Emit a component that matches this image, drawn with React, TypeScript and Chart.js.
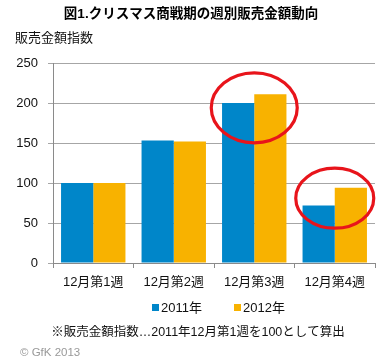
import React, { useEffect, useRef } from "react";
import { Chart, registerables } from "chart.js";

Chart.register(...registerables);

const categories = ["12月第1週", "12月第2週", "12月第3週", "12月第4週"];
const sales2011 = [100, 153, 200, 72];
const sales2012 = [100, 152, 211, 94];
const seriesLabels = ["2011年", "2012年"];
const yMax = 250;
const yStep = 50;
const titleText = "図1.クリスマス商戦期の週別販売金額動向";
const yTitleText = "販売金額指数";
const noteText = "※販売金額指数…2011年12月第1週を100として算出";
const creditText = "© GfK 2013";
// highlighted regions: category index and centre value
const highlightIndex = [2, 3];
const highlightValue = [194, 81];

const FONT = '"Liberation Sans", "Noto Sans CJK JP", sans-serif';
const BLUE = "#0086c9";
const ORANGE = "#f8b200";

const extrasPlugin = {
  id: "extras",
  afterDatasetsDraw(chart: any) {
    const ctx = chart.ctx;
    const xs = chart.scales.x;
    const ys = chart.scales.y;
    ctx.save();
    ctx.strokeStyle = "#e8141b";
    ctx.lineWidth = 3.2;
    const radii = [
      [43, 35],
      [39, 30],
    ];
    highlightIndex.forEach((idx, i) => {
      const cx = xs.getPixelForValue(idx);
      const cy = ys.getPixelForValue(highlightValue[i]);
      ctx.beginPath();
      ctx.ellipse(cx, cy, radii[i][0], radii[i][1], 0, 0, Math.PI * 2);
      ctx.stroke();
    });
    ctx.restore();
  },
  afterDraw(chart: any) {
    const ctx = chart.ctx;
    ctx.save();
    ctx.textBaseline = "middle";
    ctx.fillStyle = "#000";
    ctx.textAlign = "center";
    ctx.font = `bold 13.5px ${FONT}`;
    ctx.fillText(titleText, 191, 14);

    ctx.textAlign = "left";
    ctx.font = `13px ${FONT}`;
    ctx.fillStyle = "#111";
    ctx.fillText(yTitleText, 15, 38);

    // legend
    const colors = [BLUE, ORANGE];
    const lx = [152, 234];
    ctx.font = `13px ${FONT}`;
    seriesLabels.forEach((lab, i) => {
      ctx.fillStyle = colors[i];
      ctx.fillRect(lx[i], 304, 7, 7);
      ctx.fillStyle = "#111";
      ctx.fillText(lab, lx[i] + 9, 308);
    });

    ctx.textAlign = "center";
    ctx.font = `12.5px ${FONT}`;
    ctx.fillStyle = "#111";
    ctx.fillText(noteText, 198, 333);

    ctx.textAlign = "left";
    ctx.font = `11.5px ${FONT}`;
    ctx.fillStyle = "#999";
    ctx.fillText(creditText, 20, 353);
    ctx.restore();
  },
};

export default function App() {
  const ref = useRef<HTMLCanvasElement>(null);
  useEffect(() => {
    const chart = new Chart(ref.current as HTMLCanvasElement, {
      type: "bar",
      data: {
        labels: categories,
        datasets: [
          {
            label: seriesLabels[0],
            data: sales2011,
            backgroundColor: BLUE,
            categoryPercentage: 0.8,
            barPercentage: 1.0,
          },
          {
            label: seriesLabels[1],
            data: sales2012,
            backgroundColor: ORANGE,
            categoryPercentage: 0.8,
            barPercentage: 1.0,
          },
        ],
      },
      options: {
        responsive: false,
        animation: false,
        layout: { padding: { top: 63, left: 0, right: 9, bottom: 68 } },
        plugins: {
          legend: { display: false },
          title: { display: false },
          tooltip: { enabled: false },
        },
        scales: {
          x: {
            grid: {
              drawOnChartArea: false,
              drawTicks: true,
              tickLength: 5,
              color: "#8a8a8a",
              offset: true,
            },
            border: { color: "#8a8a8a" },
            ticks: {
              color: "#111",
              font: { family: FONT, size: 13 },
              padding: 7,
              maxRotation: 0,
            },
            afterFit: (s: any) => {
              s.height = 30;
            },
          },
          y: {
            min: 0,
            max: yMax,
            ticks: {
              stepSize: yStep,
              color: "#111",
              font: { family: FONT, size: 13 },
              padding: 10,
            },
            grid: { color: "#a6a6a6", tickLength: 5 },
            border: { color: "#8a8a8a" },
            afterFit: (s: any) => {
              s.width = 53;
            },
          },
        },
      },
      plugins: [extrasPlugin],
    });
    return () => chart.destroy();
  }, []);
  return (
    <div style={{ position: "absolute", left: 0, top: 0, width: 384, height: 361, background: "#fff" }}>
      <canvas ref={ref} width={384} height={361} />
    </div>
  );
}
